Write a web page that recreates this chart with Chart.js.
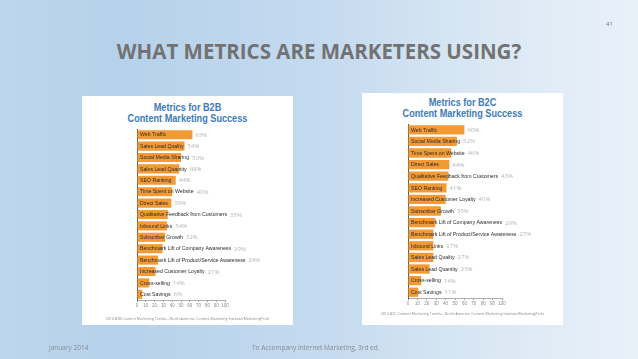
<!DOCTYPE html>
<html lang="en">
<head>
<meta charset="UTF-8">
<title>What metrics are marketers using?</title>
<script src="https://cdn.jsdelivr.net/npm/chart.js@4.4.1/dist/chart.umd.min.js"></script>
<style>
    html, body { margin: 0; padding: 0; }
    .slide {
        position: relative; width: 638px; height: 359px; overflow: hidden;
        background: linear-gradient(90deg, #bdd6ed 0%, #b6d1eb 18%, #c4daef 50%, #d9e7f4 75%, #e9f1f9 100%);
        font-family: "Open Sans", "Liberation Sans", sans-serif;
    }
    .num { position: absolute; left: 606px; top: 20px; font-size: 6px; color: #7a7a7a; }
    h1 {
        position: absolute; left: 0; width: 638px; top: 37px; margin: 0; text-align: center;
        font-size: 20.5px; font-weight: bold; color: #727272; letter-spacing: 0;
    }
    .box { position: absolute; background: #fff; }
    .box canvas { position: absolute; left: 0; top: 0; }
    .ttl {
        position: absolute; left: 0; width: 100%; text-align: center;
        font-family: "Liberation Sans", sans-serif;
        font-weight: bold; font-size: 11px; line-height: 10.6px; color: #3c7bb8;
        transform: scaleX(0.83); transform-origin: center top;
    }
    .src {
        position: absolute; left: 0; width: 100%; text-align: center;
        font-size: 3.6px; color: #8a8a8a; white-space: nowrap;
    }
    .foot { position: absolute; top: 343px; font-size: 6.5px; color: #8c8c8c; }
</style>
</head>
<body>
<div class="slide">
    <div class="num">41</div>
    <h1>WHAT METRICS ARE MARKETERS USING?</h1>

    <div class="box" id="boxB2B" style="left:82px; top:96px; width:211px; height:229px;">
        <div class="ttl" style="top:6px;">Metrics for B2B<br>Content Marketing Success</div>
        <canvas id="chartB2B" width="211" height="229"></canvas>
        <div class="src" style="top:220px;">2014 B2B Content Marketing Trends—North America: Content Marketing Institute/MarketingProfs</div>
    </div>

    <div class="box" id="boxB2C" style="left:362px; top:93px; width:201px; height:232px;">
        <div class="ttl" style="top:4px;">Metrics for B2C<br>Content Marketing Success</div>
        <canvas id="chartB2C" width="201" height="232"></canvas>
        <div class="src" style="top:218px;">2014 B2C Content Marketing Trends—North America: Content Marketing Institute/MarketingProfs</div>
    </div>

    <div class="foot" style="left:49px;">January 2014</div>
    <div class="foot" style="left:252px;">To Accompany Internet Marketing, 3rd ed.</div>
</div>

<script>
    // dados B2B
    var metricasB2B = ['Web Traffic', 'Sales Lead Quality', 'Social Media Sharing', 'Sales Lead Quantity',
        'SEO Ranking', 'Time Spent on Website', 'Direct Sales', 'Qualitative Feedback from Customers',
        'Inbound Links', 'Subscriber Growth', 'Benchmark Lift of Company Awareness',
        'Benchmark Lift of Product/Service Awareness', 'Increased Customer Loyalty', 'Cross-selling', 'Cost Savings'];
    var valoresB2B = [63, 54, 50, 48, 44, 40, 39, 35, 34, 32, 29, 24, 21, 14, 6];

    // dados B2C
    var metricasB2C = ['Web Traffic', 'Social Media Sharing', 'Time Spent on Website', 'Direct Sales',
        'Qualitative Feedback from Customers', 'SEO Ranking', 'Increased Customer Loyalty', 'Subscriber Growth',
        'Benchmark Lift of Company Awareness', 'Benchmark Lift of Product/Service Awareness', 'Inbound Links',
        'Sales Lead Quality', 'Sales Lead Quantity', 'Cross-selling', 'Cost Savings'];
    var valoresB2C = [60, 52, 46, 44, 43, 41, 40, 35, 29, 27, 27, 27, 23, 14, 11];

    var ticksEixo = [0, 10, 20, 30, 40, 50, 60, 70, 80, 90, 100];

    // escreve o nome dentro da barra e o percentual depois
    var rotulosBarras = {
        id: 'rotulosBarras',
        afterDatasetsDraw(chart) {
            var ctx = chart.ctx;
            var meta = chart.getDatasetMeta(0);
            var valores = chart.data.datasets[0].data;
            ctx.save();
            ctx.textBaseline = 'middle';
            meta.data.forEach(function (bar, i) {
                var nome = chart.data.labels[i];
                ctx.font = '5.2px "Liberation Sans", sans-serif';
                ctx.fillStyle = '#2b2b2b';
                ctx.textAlign = 'left';
                var xTexto = bar.base + 2.5;
                ctx.fillText(nome, xTexto, bar.y + 0.3);
                var fim = Math.max(bar.x, xTexto + ctx.measureText(nome).width);
                ctx.font = '6px "Open Sans", sans-serif';
                ctx.fillStyle = '#b4b4b4';
                ctx.fillText(valores[i] + '%', fim + 3, bar.y + 0.3);
            });
            ctx.restore();
        }
    };

    function criarGrafico(id, labels, valores, padding) {
        var ctx = document.getElementById(id).getContext('2d');
        return new Chart(ctx, {
            type: 'bar',
            data: {
                labels: labels,
                datasets: [{
                    data: valores,
                    backgroundColor: '#f39a35',
                    borderWidth: 0,
                    categoryPercentage: 1,
                    barPercentage: 0.8
                }]
            },
            options: {
                indexAxis: 'y',
                responsive: false,
                animation: false,
                layout: { padding: padding },
                plugins: { legend: { display: false }, tooltip: { enabled: false } },
                scales: {
                    x: {
                        min: 0, max: 100,
                        afterBuildTicks(scale) { scale.ticks = ticksEixo.map(function (v) { return { value: v }; }); },
                        afterFit(scale) { scale.height = 10; },
                        ticks: { font: { size: 4.5 }, color: '#8a8a8a', padding: 1, maxRotation: 0, autoSkip: false },
                        grid: { drawOnChartArea: false, tickLength: 2, color: '#9a9a9a' },
                        border: { color: '#9a9a9a', width: 0.8 }
                    },
                    y: {
                        ticks: { display: false },
                        grid: { display: false },
                        border: { display: true, color: '#555', width: 1 }
                    }
                }
            },
            plugins: [rotulosBarras]
        });
    }

    var graficoB2B = criarGrafico('chartB2B', metricasB2B, valoresB2B, { left: 47, right: 68, top: 33, bottom: 15 });
    var graficoB2C = criarGrafico('chartB2C', metricasB2C, valoresB2C, { left: 38, right: 61, top: 31, bottom: 17 });
</script>
</body>
</html>
